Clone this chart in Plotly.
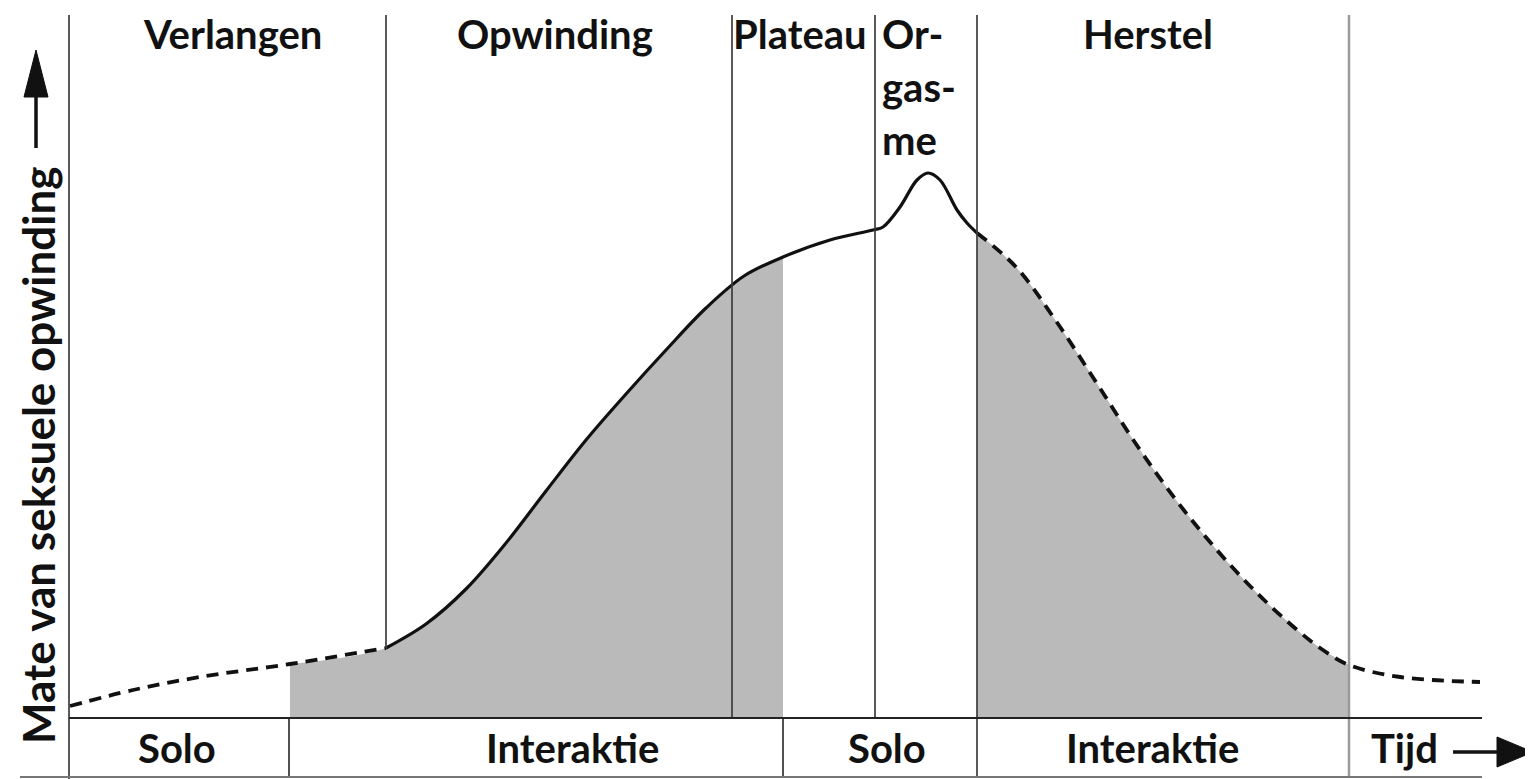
import plotly.graph_objects as go

# ---------------- data (time units, arousal units) -------------
curve_t = [0.1, 6.4, 13.1, 22.1, 31.7, 35.7, 39.7, 43.7, 47.7, 51.7, 55.7, 59.7, 63.7,
           67.5, 71.4, 76.1, 80.4, 81.4, 83.1, 84.8, 85.9, 87.1, 88.8, 89.8, 90.8,
           94.7, 98.7, 102.7, 106.7, 110.7, 114.7, 118.7, 122.7, 125.4, 128.0, 133.1, 141.1]
curve_a = [1.2, 2.8, 4.1, 5.4, 7.0, 9.4, 12.9, 17.5, 22.7, 27.8, 32.4, 36.8, 41.0,
           44.2, 46.1, 47.8, 48.8, 49.1, 51.1, 53.8, 54.5, 53.8, 50.8, 49.5, 48.5,
           45.1, 39.7, 33.6, 27.4, 21.8, 16.9, 12.6, 8.9, 6.8, 5.3, 4.1, 3.6]

phase_bounds = [0.0, 31.7, 66.3, 80.6, 90.8, 128.0]
phase_labels = ["Verlangen", "Opwinding", "Plateau", "Or-<br>gas-<br>me", "Herstel"]
phase_label_t = [16.3, 48.6, 73.1, 81.1, 107.9]

mode_bounds = [0.0, 22.0, 71.4, 90.8, 128.0]
mode_labels = ["Solo", "Interaktie", "Solo", "Interaktie"]
mode_label_t = [10.8, 50.3, 81.8, 108.3]

solid_range = (31.7, 90.8)
shaded_ranges = [(22.1, 71.4), (90.8, 128.0)]

y_label = "Mate van seksuele opwinding"
x_label = "Tijd"

# ---------------- layout helpers -------------
# the page body has an 8px margin, so the figure is 8px smaller than the window
OFF = 8
W, H = 1533 - OFF, 779 - OFF


def px_x(p):      # reference pixel -> time units
    return (p - 69) / 10.0


def px_y(p):      # reference pixel -> arousal units
    return (718 - p) / 10.0


X0, X1 = px_x(OFF), px_x(1533)
Y0, Y1 = px_y(779), px_y(OFF)
T_END = px_x(1482)     # end of baseline
TOP = px_y(15)         # top of the vertical separators
STRIP = px_y(777)      # bottom line of the strip

FONT = "Lato"
SIZE = 40
INK = "#111111"
GRID = "#3c3c3c"
GRAY = "#bababa"


def subset(lo, hi):
    xs, ys = [], []
    for t, a in zip(curve_t, curve_a):
        if lo - 1e-9 <= t <= hi + 1e-9:
            xs.append(t)
            ys.append(a)
    return xs, ys


fig = go.Figure()

# shaded areas
for lo, hi in shaded_ranges:
    xs, ys = subset(lo, hi)
    fig.add_trace(go.Scatter(x=xs, y=ys, mode="lines", line=dict(width=0, shape="spline"),
                             fill="tozeroy", fillcolor=GRAY, hoverinfo="skip"))

# curve: dashed / solid / dashed
DASH = "12px,8px"
segs = [((curve_t[0], solid_range[0]), DASH),
        (solid_range, "solid"),
        ((solid_range[1], curve_t[-1]), DASH)]
for (lo, hi), dash in segs:
    xs, ys = subset(lo, hi)
    fig.add_trace(go.Scatter(x=xs, y=ys, mode="lines",
                             line=dict(color=INK, width=3.2 if dash == "solid" else 3.8,
                                       dash=dash, shape="spline"),
                             hoverinfo="skip"))

shapes = []
# vertical phase separators
opw_start_level = curve_a[curve_t.index(phase_bounds[1])]
for i, b in enumerate(phase_bounds):
    if i == 0:
        y_bot = Y0
    elif i == 1:
        y_bot = opw_start_level
    elif i in (2, 3):
        y_bot = 0
    else:
        y_bot = STRIP
    col = "#9a9a9a" if i == 5 else GRID
    wid = 2.5 if i == 5 else 1.7
    shapes.append(dict(type="line", x0=b, x1=b, y0=y_bot, y1=TOP,
                       line=dict(color=col, width=wid), layer="above"))
# strip dividers
for b in mode_bounds[1:3]:
    shapes.append(dict(type="line", x0=b, x1=b, y0=STRIP, y1=0,
                       line=dict(color=GRID, width=1.8), layer="above"))
# baseline and strip bottom
shapes.append(dict(type="line", x0=0, x1=T_END, y0=0, y1=0,
                   line=dict(color="#222222", width=2.2), layer="above"))
shapes.append(dict(type="line", x0=px_x(20), x1=T_END, y0=STRIP, y1=STRIP,
                   line=dict(color="#777777", width=2), layer="above"))

# time arrow (bottom right)
ay = px_y(752)
shapes.append(dict(type="line", x0=px_x(1453), x1=px_x(1503), y0=ay, y1=ay,
                   line=dict(color=INK, width=3.5), layer="above"))
shapes.append(dict(type="path",
                   path=f"M {px_x(1497)},{px_y(737)} L {px_x(1533)},{ay} L {px_x(1497)},{px_y(767)} Z",
                   fillcolor=INK, line=dict(color=INK, width=1), layer="above"))
# arousal arrow (left, pointing up)
axp = px_x(36)
shapes.append(dict(type="line", x0=axp, x1=axp, y0=px_y(148), y1=px_y(92),
                   line=dict(color=INK, width=3.5), layer="above"))
shapes.append(dict(type="path",
                   path=f"M {px_x(24)},{px_y(97)} L {axp},{px_y(50)} L {px_x(48)},{px_y(97)} Z",
                   fillcolor=INK, line=dict(color=INK, width=1), layer="above"))

annotations = []
font = dict(family=FONT, size=SIZE, color=INK)
TOP_LABEL_Y = 34
for lab, t in zip(phase_labels, phase_label_t):
    if "<br>" in lab:
        for part, yy in zip(lab.split("<br>"), [TOP_LABEL_Y, 87, 140]):
            annotations.append(dict(x=t, y=px_y(yy), text="<b>" + part + "</b>", showarrow=False,
                                    xanchor="left", yanchor="middle", font=font))
    else:
        annotations.append(dict(x=t, y=px_y(TOP_LABEL_Y), text="<b>" + lab + "</b>", showarrow=False,
                                xanchor="center", yanchor="middle", font=font))
for lab, t in zip(mode_labels, mode_label_t):
    annotations.append(dict(x=t, y=px_y(748), text="<b>" + lab + "</b>", showarrow=False,
                            xanchor="center", yanchor="middle", font=font))
annotations.append(dict(x=px_x(1369), y=px_y(748), text="<b>" + x_label + "</b>", showarrow=False,
                        xanchor="left", yanchor="middle", font=font))
annotations.append(dict(x=px_x(38), y=px_y(456), text="<b>" + y_label + "</b>", showarrow=False,
                        textangle=-90, xanchor="center", yanchor="middle",
                        font=dict(family=FONT, size=44, color=INK)))

fig.update_layout(
    width=W, height=H,
    margin=dict(l=0, r=0, t=0, b=0),
    paper_bgcolor="white", plot_bgcolor="white",
    showlegend=False,
    xaxis=dict(range=[X0, X1], visible=False, fixedrange=True),
    yaxis=dict(range=[Y0, Y1], visible=False, fixedrange=True),
    shapes=shapes, annotations=annotations,
)

fig.write_html("out.html", config={"displayModeBar": False})
